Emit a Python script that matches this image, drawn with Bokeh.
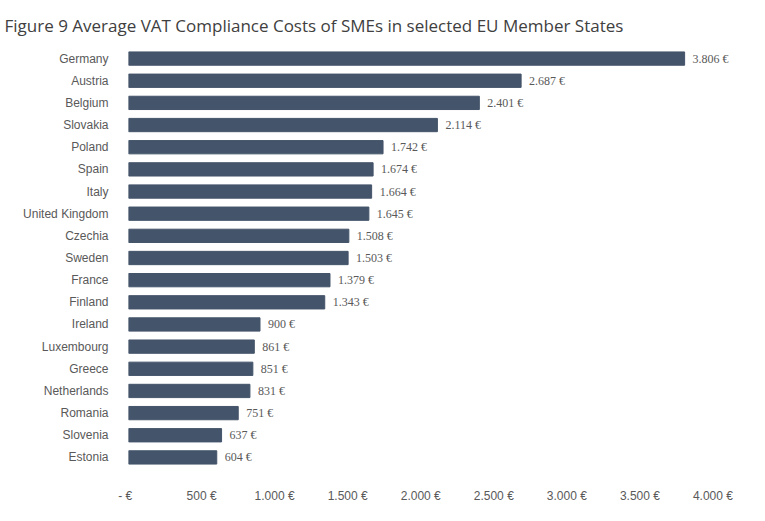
from bokeh.plotting import figure
from bokeh.models import FixedTicker, ColumnDataSource
from bokeh.embed import file_html
from bokeh.resources import INLINE

countries = ["Germany","Austria","Belgium","Slovakia","Poland","Spain","Italy","United Kingdom","Czechia","Sweden","France","Finland","Ireland","Luxembourg","Greece","Netherlands","Romania","Slovenia","Estonia"]
costs = [3806,2687,2401,2114,1742,1674,1664,1645,1508,1503,1379,1343,900,861,851,831,751,637,604]
ticks = [0,500,1000,1500,2000,2500,3000,3500,4000]

def fmt(v):
    return f"{v:,}".replace(",", ".") + " €"

src = ColumnDataSource(dict(c=countries, v=costs, lab=[fmt(v) for v in costs]))
p = figure(width=749, height=505, y_range=list(reversed(countries)), x_range=(0, 4250),
           output_backend="svg", toolbar_location=None,
           title="Figure 9 Average VAT Compliance Costs of SMEs in selected EU Member States",
           min_border_left=128, min_border_right=0, min_border_bottom=31, min_border_top=30)
p.title.text_font = "Open Sans"
p.title.text_font_size = "17px"
p.title.text_font_style = "normal"
p.title.text_color = "#404040"
p.title.align = "left"
p.title.offset = -124
p.title.standoff = 22
p.hbar(y="c", right="v", left=0, height=0.6, color="#44546A", source=src)
p.text(x="v", y="c", text="lab", source=src, x_offset=8, text_baseline="middle",
       text_font="Open Sans" and None or "helvetica",
       text_font_size="12px", text_color="#595959")
p.xaxis.ticker = FixedTicker(ticks=ticks)
p.xaxis.major_label_overrides = {t: (fmt(t) if t else "-   €") for t in ticks}
for ax in (p.xaxis, p.yaxis):
    ax.axis_line_color = None
    ax.major_tick_line_color = None
    ax.minor_tick_line_color = None
    ax.major_label_text_font_size = "12px"
    ax.major_label_text_color = "#595959"
    ax.major_label_text_font_style = "normal"
p.xaxis.major_label_standoff = 14
p.yaxis.major_label_standoff = 14
p.xgrid.grid_line_color = None
p.ygrid.grid_line_color = None
p.outline_line_color = None

open("out.html", "w").write(file_html(p, INLINE))
